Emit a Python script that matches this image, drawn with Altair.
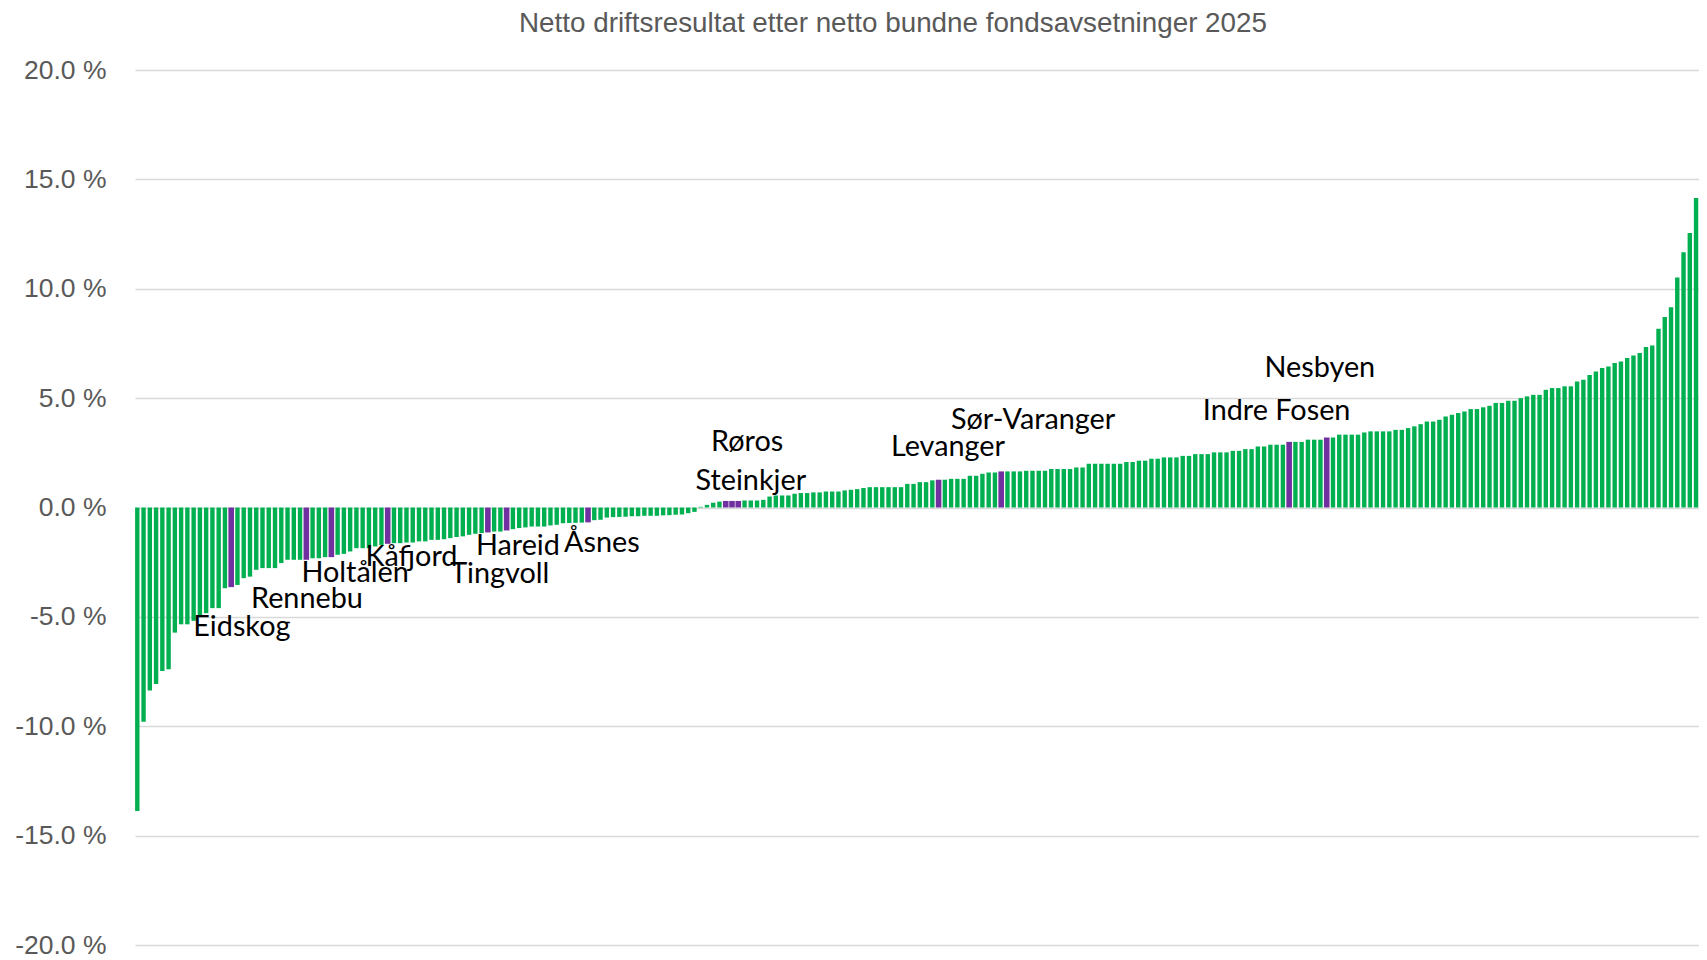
import altair as alt
import pandas as pd

title_text = "Netto driftsresultat etter netto bundne fondsavsetninger 2025"

# Sorted municipality results (% of operating income)
values = [
    -13.87, -9.79, -8.37, -8.07, -7.47, -7.39, -5.72, -5.34, -5.34, -5.18,
    -4.99, -4.83, -4.60, -4.60, -3.69, -3.64, -3.54, -3.23, -3.16, -2.85,
    -2.77, -2.77, -2.77, -2.54, -2.39, -2.39, -2.39, -2.39, -2.32, -2.32,
    -2.27, -2.27, -2.16, -2.12, -2.01, -1.86, -1.86, -1.86, -1.78, -1.71,
    -1.66, -1.63, -1.63, -1.60, -1.60, -1.55, -1.55, -1.48, -1.48, -1.45,
    -1.40, -1.35, -1.32, -1.25, -1.20, -1.17, -1.14, -1.10, -1.10, -1.05,
    -0.99, -0.94, -0.91, -0.87, -0.87, -0.87, -0.82, -0.79, -0.72, -0.71,
    -0.70, -0.69, -0.68, -0.58, -0.56, -0.46, -0.44, -0.43,
    -0.42, -0.40, -0.40, -0.38, -0.38, -0.38, -0.36, -0.35, -0.33, -0.32,
    -0.26, -0.20, 0.03,
    0.12, 0.22, 0.27, 0.30, 0.30, 0.30, 0.32, 0.32, 0.32, 0.35,
    0.50, 0.55, 0.55, 0.55, 0.63, 0.66, 0.66, 0.69, 0.69, 0.73,
    0.73, 0.73, 0.78, 0.81, 0.84, 0.89, 0.93,
    0.93, 0.93, 0.93, 0.93, 0.93, 1.08, 1.08, 1.16, 1.16, 1.24,
    1.27, 1.27, 1.31, 1.31, 1.31, 1.45, 1.45, 1.54, 1.60, 1.60,
    1.65, 1.65, 1.65, 1.65, 1.68, 1.68, 1.68, 1.68, 1.76, 1.76,
    1.76, 1.76, 1.83, 1.83, 2.00, 2.00, 2.00, 2.00,
    2.00, 2.00, 2.08, 2.08, 2.14, 2.14, 2.23, 2.23, 2.29, 2.29,
    2.29, 2.36, 2.36, 2.44, 2.44, 2.44, 2.52, 2.52, 2.52, 2.59,
    2.59, 2.67, 2.67, 2.79, 2.79, 2.87, 2.87, 2.87, 3.00, 3.00,
    3.00, 3.10, 3.10, 3.10, 3.20, 3.20, 3.33, 3.33, 3.33, 3.33,
    3.43, 3.48,
    3.48, 3.48, 3.48, 3.55, 3.55, 3.63, 3.71, 3.81, 3.93, 3.93,
    4.01, 4.16,
    4.24, 4.32, 4.39, 4.50, 4.50, 4.58, 4.65, 4.78, 4.78, 4.88,
    4.88, 5.00, 5.08, 5.15, 5.15, 5.38, 5.46, 5.46, 5.54, 5.54,
    5.76, 5.84, 6.06, 6.22, 6.38, 6.45, 6.61, 6.68, 6.83, 6.95,
    7.06, 7.34, 7.41, 8.17, 8.71, 9.15, 10.52, 11.67, 12.55, 14.15,
    14.23, 14.84,
]

highlight_idx = [15, 27, 31, 40, 56, 59, 72, 94, 95, 96, 128, 138, 184, 190]

label_names = ["Eidskog", "Rennebu", "Holtålen", "Kåfjord", "Tingvoll", "Hareid",
               "Åsnes", "Røros", "Steinkjer", "Levanger", "Sør-Varanger",
               "Indre Fosen", "Nesbyen"]
# label anchor positions in data units (bar index, percent)
label_x = [16.7, 27.1, 34.8, 43.8, 57.9, 60.8, 74.2, 97.4, 98.0, 129.5, 143.1, 182.0, 188.9]
label_y = [-5.45, -4.16, -3.01, -2.25, -3.06, -1.76, -1.61, 3.01, 1.23, 2.78, 4.02, 4.43, 6.40]

y_ticks = [-20, -15, -10, -5, 0, 5, 10, 15, 20]

df = pd.DataFrame({
    "idx": list(range(len(values))),
    "value": values,
    "hl": ["h" if i in highlight_idx else "n" for i in range(len(values))],
})
lab_df = pd.DataFrame({"idx": label_x, "value": label_y, "name": label_names})

x_enc = alt.X("idx:Q", scale=alt.Scale(domain=[-0.367, 249.47], nice=False, zero=False,
                                        padding=0),
              axis=None)
y_enc = alt.Y("value:Q", scale=alt.Scale(domain=[-20, 20], nice=False, padding=0),
              axis=alt.Axis(values=y_ticks, title=None, domain=False, ticks=False,
                            grid=True, gridColor="#D9D9D9", gridWidth=1.3,
                            labelExpr="(datum.value < 0 ? '-' : '') + format(abs(datum.value), '.1f') + ' %'",
                            labelFont="Liberation Sans", labelFontSize=26.5,
                            labelColor="#595959", labelPadding=29))

base = alt.Chart(df)
green = base.transform_filter("datum.hl == 'n'").mark_bar(
    color="#00B050", size=4.4, clip=True).encode(x=x_enc, y=y_enc)
purple = base.transform_filter("datum.hl == 'h'").mark_bar(
    color="#7030A0", size=5.6, clip=True).encode(x=x_enc, y=y_enc)
labels = alt.Chart(lab_df).mark_text(
    font="Lato", fontSize=28.8, color="#000000", align="center", baseline="middle"
).encode(x=x_enc, y=y_enc, text="name:N")

chart = alt.layer(green, purple, labels).properties(
    width=1564, height=875,
    padding={"left": 127, "top": 62, "right": 0, "bottom": 14},
    autosize=alt.AutoSizeParams(type="none"),
    title=alt.Title(title_text, font="Liberation Sans", fontSize=27.8, fontWeight="normal",
                    color="#595959", anchor="middle", baseline="middle", offset=5, dx=-24),
).configure_view(stroke=None)

chart.save("out.html", embed_options={"renderer": "svg", "actions": False})
